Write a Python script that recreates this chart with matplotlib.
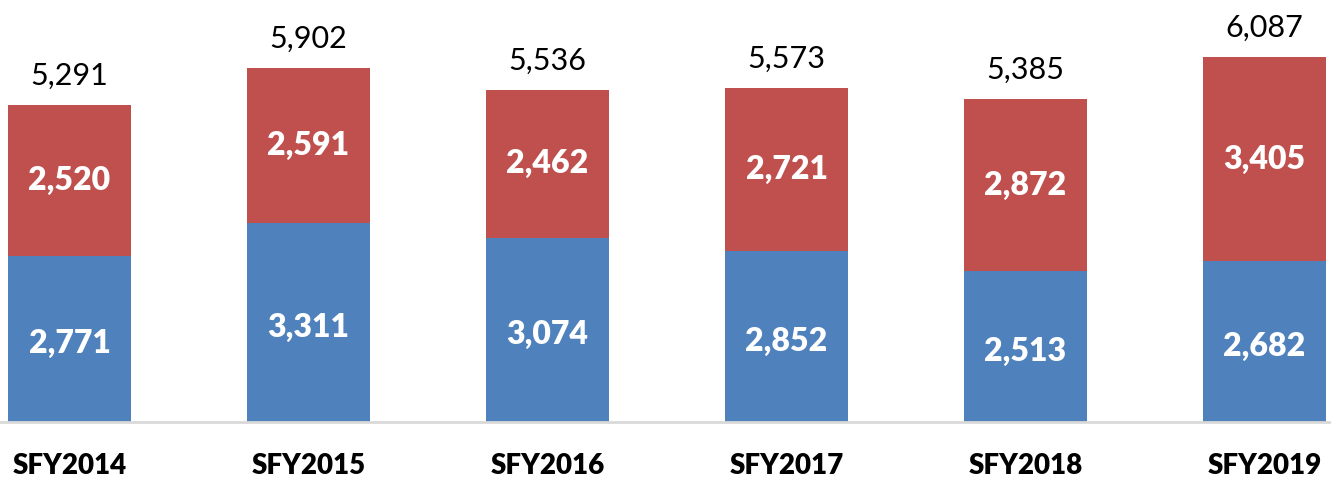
import matplotlib
matplotlib.use("Agg")
from matplotlib import pyplot as plt

years = ["SFY2014", "SFY2015", "SFY2016", "SFY2017", "SFY2018", "SFY2019"]
bottom_vals = [2771, 3311, 3074, 2852, 2513, 2682]
top_vals = [2520, 2591, 2462, 2721, 2872, 3405]
totals = [5291, 5902, 5536, 5573, 5385, 6087]

plt.rcParams['font.family'] = ['Lato', 'DejaVu Sans']

fig = plt.figure(figsize=(13.31, 4.78), dpi=100)
ax = fig.add_axes([0, 56 / 478, 1, 422 / 478])

x = list(range(len(years)))
width = 0.515
ax.bar(x, bottom_vals, width, color='#4F81BD')
ax.bar(x, top_vals, width, bottom=bottom_vals, color='#C0504D')

for i in x:
    ax.text(i, bottom_vals[i] / 2 - 80, f"{bottom_vals[i]:,}", ha='center', va='center',
            color='white', fontsize=23, fontweight='heavy')
    ax.text(i, bottom_vals[i] + top_vals[i] / 2, f"{top_vals[i]:,}", ha='center', va='center',
            color='white', fontsize=23, fontweight='heavy')
    ax.text(i, totals[i] + 250, f"{totals[i]:,}", ha='center', va='bottom',
            color='black', fontsize=22)

ax.set_xlim(-0.291, 5.278)
ax.set_ylim(0, 7038)
ax.set_xticks(x)
ax.set_xticklabels(years, fontsize=20, fontweight='heavy')
ax.tick_params(axis='x', length=0, pad=22)
ax.set_yticks([])
for s in ['top', 'right', 'left']:
    ax.spines[s].set_visible(False)
ax.spines['bottom'].set_color('#D9D9D9')
ax.spines['bottom'].set_linewidth(2)

fig.savefig("out.png", dpi=100)
